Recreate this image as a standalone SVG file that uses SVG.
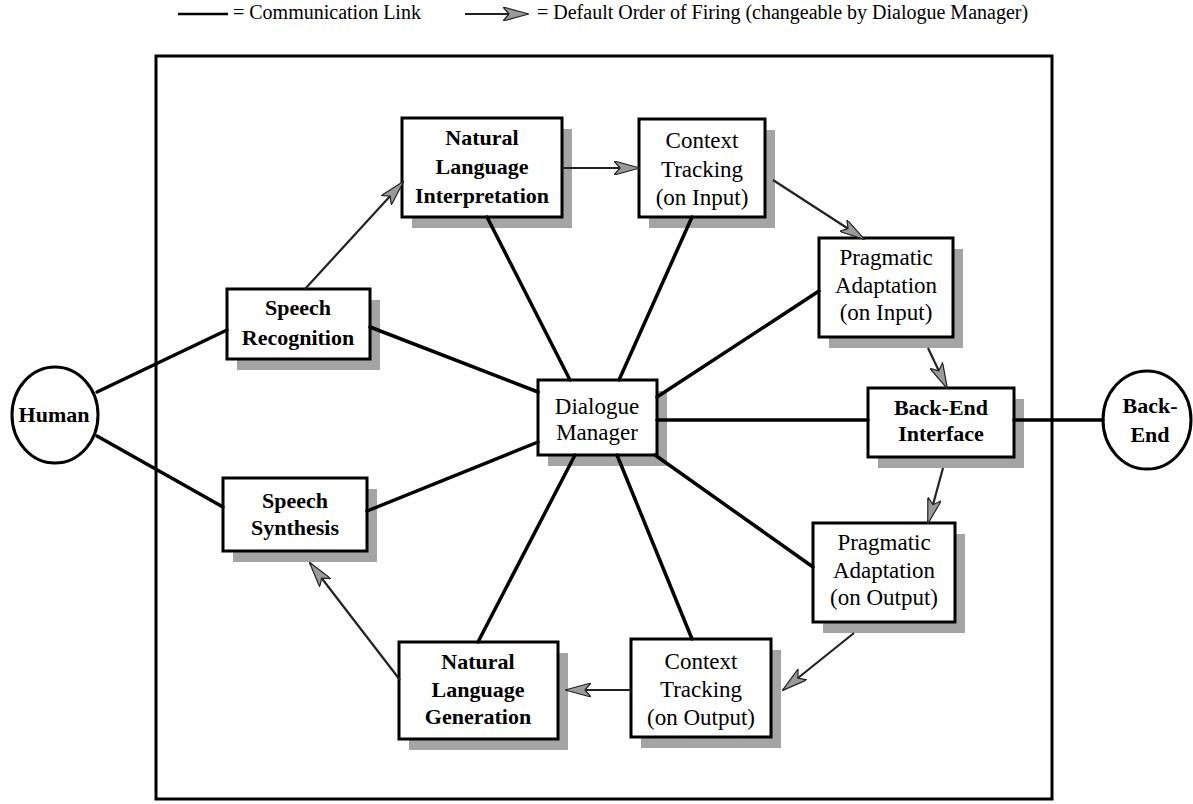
<svg xmlns="http://www.w3.org/2000/svg" width="1193" height="804" viewBox="0 0 1193 804">
<style>
.shadow{fill:#a4a4a4}
.box{fill:#fff;stroke:#000;stroke-width:3}
.circ{fill:#fff;stroke:#000;stroke-width:3}
.frame{fill:none;stroke:#000;stroke-width:3}
.lbl{font-family:"Liberation Serif","Times New Roman",serif;font-size:23px;text-anchor:middle;fill:#000}
.b{font-weight:bold;font-size:22px}
.leg{font-family:"Liberation Serif","Times New Roman",serif;font-size:20px;fill:#000}
.comm{stroke:#000;stroke-width:3.5;fill:none;stroke-linecap:round}
.fire{stroke:#222;stroke-width:2.2;fill:none;marker-end:url(#ah)}
</style>
<defs>
<marker id="ah" viewBox="0 0 26 14" refX="25" refY="7" markerWidth="26" markerHeight="14" markerUnits="userSpaceOnUse" orient="auto">
<path d="M0,0 L26,7 L0,14 L6,7 Z" fill="#9a9a9a" stroke="#222" stroke-width="1.2" stroke-linejoin="round"/>
</marker>
</defs>
<rect width="1193" height="804" fill="#fff"/>

<g id="legend">
<line x1="178" y1="14" x2="228" y2="14" stroke="#000" stroke-width="2.5"/>
<text class="leg" x="233" y="19">= Communication Link</text>
<line x1="465" y1="14" x2="528" y2="14" class="fire"/>
<text class="leg" x="537" y="19">= Default Order of Firing (changeable by Dialogue Manager)</text>
</g>

<rect id="frame" class="frame" x="156" y="56" width="896" height="743"/>

<g id="human">
<ellipse class="circ" cx="55" cy="415" rx="43" ry="48"/>
<text class="lbl b" x="54" y="422">Human</text>
</g>
<g id="backend">
<ellipse class="circ" cx="1147" cy="420" rx="44" ry="49"/>
<text class="lbl b" x="1150" y="413">Back-</text>
<text class="lbl b" x="1150" y="442">End</text>
</g>

<g id="speech-recognition">
<rect class="shadow" x="237" y="300" width="143" height="70"/>
<rect class="box" x="227" y="289" width="143" height="70"/>
<text class="lbl b" x="298" y="315">Speech</text>
<text class="lbl b" x="298" y="345">Recognition</text>
</g>
<g id="speech-synthesis">
<rect class="shadow" x="233" y="489" width="144" height="73"/>
<rect class="box" x="223" y="478" width="144" height="73"/>
<text class="lbl b" x="295" y="508">Speech</text>
<text class="lbl b" x="295" y="535">Synthesis</text>
</g>
<g id="nl-interpretation">
<rect class="shadow" x="412" y="129" width="160" height="99"/>
<rect class="box" x="402" y="118" width="160" height="99"/>
<text class="lbl b" x="482" y="145">Natural</text>
<text class="lbl b" x="482" y="174">Language</text>
<text class="lbl b" x="482" y="203">Interpretation</text>
</g>
<g id="context-input">
<rect class="shadow" x="649" y="130" width="126" height="98"/>
<rect class="box" x="639" y="119" width="126" height="98"/>
<text class="lbl" x="702" y="148">Context</text>
<text class="lbl" x="702" y="177">Tracking</text>
<text class="lbl" x="702" y="205">(on Input)</text>
</g>
<g id="pragmatic-input">
<rect class="shadow" x="829" y="249" width="134" height="99"/>
<rect class="box" x="819" y="238" width="134" height="99"/>
<text class="lbl" x="886" y="265">Pragmatic</text>
<text class="lbl" x="886" y="293">Adaptation</text>
<text class="lbl" x="886" y="320">(on Input)</text>
</g>
<g id="dialogue-manager">
<rect class="shadow" x="548" y="391" width="119" height="75"/>
<rect class="box" x="538" y="380" width="119" height="75"/>
<text class="lbl" x="597" y="414">Dialogue</text>
<text class="lbl" x="597" y="440">Manager</text>
</g>
<g id="backend-interface">
<rect class="shadow" x="878" y="399" width="146" height="69"/>
<rect class="box" x="868" y="388" width="146" height="69"/>
<text class="lbl b" x="941" y="415">Back-End</text>
<text class="lbl b" x="941" y="441">Interface</text>
</g>
<g id="pragmatic-output">
<rect class="shadow" x="823" y="534" width="142" height="99"/>
<rect class="box" x="813" y="523" width="142" height="99"/>
<text class="lbl" x="884" y="550">Pragmatic</text>
<text class="lbl" x="884" y="578">Adaptation</text>
<text class="lbl" x="884" y="605">(on Output)</text>
</g>
<g id="context-output">
<rect class="shadow" x="641" y="650" width="140" height="98"/>
<rect class="box" x="631" y="639" width="140" height="98"/>
<text class="lbl" x="701" y="669">Context</text>
<text class="lbl" x="701" y="697">Tracking</text>
<text class="lbl" x="701" y="725">(on Output)</text>
</g>
<g id="nl-generation">
<rect class="shadow" x="409" y="653" width="159" height="97"/>
<rect class="box" x="399" y="642" width="159" height="97"/>
<text class="lbl b" x="478" y="669">Natural</text>
<text class="lbl b" x="478" y="697">Language</text>
<text class="lbl b" x="478" y="724">Generation</text>
</g>

<g id="connectors">
<line class="comm" x1="97" y1="392" x2="227" y2="330"/>
<line class="comm" x1="97" y1="436" x2="223" y2="507"/>
<line class="comm" x1="370" y1="327" x2="538" y2="392"/>
<line class="comm" x1="367" y1="511" x2="538" y2="442"/>
<line class="comm" x1="487" y1="217" x2="570" y2="380"/>
<line class="comm" x1="692" y1="217" x2="619" y2="380"/>
<line class="comm" x1="819" y1="291" x2="657" y2="397"/>
<line class="comm" x1="657" y1="420" x2="868" y2="420"/>
<line class="comm" x1="1014" y1="420" x2="1103" y2="420"/>
<line class="comm" x1="655" y1="455" x2="813" y2="567"/>
<line class="comm" x1="617" y1="455" x2="692" y2="639"/>
<line class="comm" x1="575" y1="455" x2="478" y2="642"/>
<line class="fire" x1="305" y1="289" x2="403" y2="182"/>
<line class="fire" x1="562" y1="168" x2="639" y2="168"/>
<line class="fire" x1="773" y1="180" x2="864" y2="239"/>
<line class="fire" x1="928" y1="348" x2="947" y2="388"/>
<line class="fire" x1="943" y1="468" x2="928" y2="523"/>
<line class="fire" x1="854" y1="633" x2="783" y2="690"/>
<line class="fire" x1="631" y1="690" x2="566" y2="690"/>
<line class="fire" x1="400" y1="680" x2="310" y2="563"/>
</g>
</svg>
